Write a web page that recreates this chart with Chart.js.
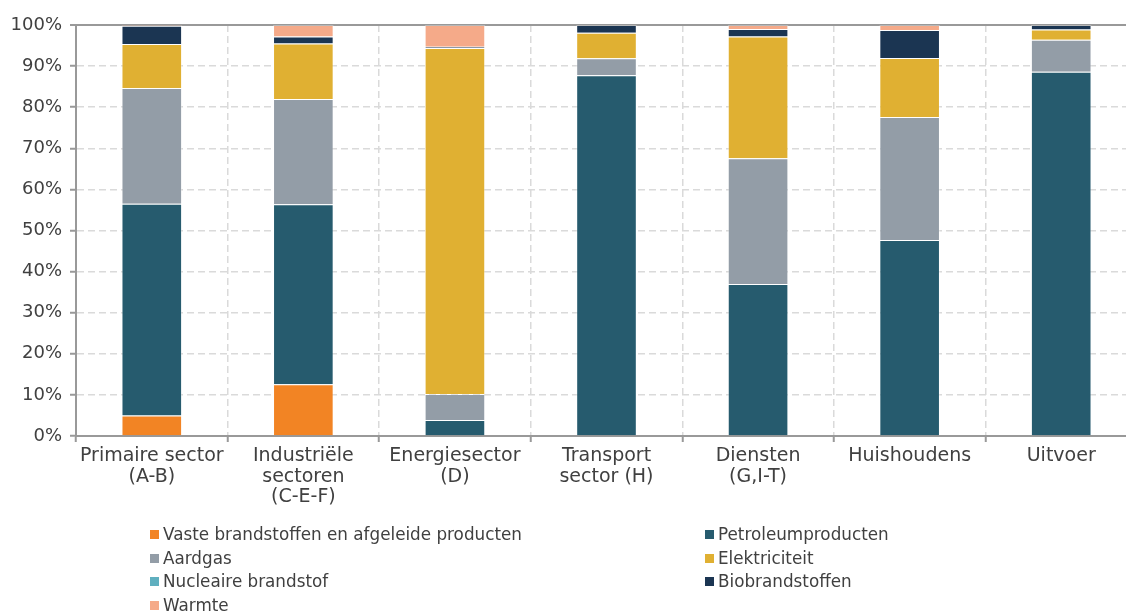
<!DOCTYPE html>
<html>
<head>
<meta charset="utf-8">
<script src="https://cdn.jsdelivr.net/npm/chart.js@4.4.1/dist/chart.umd.min.js"></script>
<style>
  html, body { margin: 0; padding: 0; background: #ffffff; overflow: hidden; }
  #wrap { position: relative; width: 1140px; height: 614px; }
  #chart { position: absolute; left: 0; top: 0; }
  .leg { position: absolute; font-family: "DejaVu Sans", sans-serif; font-size: 16.8px; color: #404040;
         white-space: nowrap; line-height: 20px; height: 20px; }
  .leg i { position: absolute; left: 0; top: 6px; width: 9px; height: 9px; }
  .leg span { position: absolute; left: 13px; top: 0; }
</style>
</head>
<body>
<div id="wrap">
  <canvas id="chart" width="1140" height="614"></canvas>
  <div id="legend"></div>
</div>
<script>
// Sectors (multi-line category labels)
const categories = [
  ["Primaire sector", "(A-B)"],
  ["Industriële", "sectoren", "(C-E-F)"],
  ["Energiesector", "(D)"],
  ["Transport", "sector (H)"],
  ["Diensten", "(G,I-T)"],
  ["Huishoudens"],
  ["Uitvoer"]
];

// Share of each energy carrier per sector (%)
const vaste         = [5.0, 12.6, 0.0, 0.0, 0.0, 0.2, 0.2];
const petroleum     = [51.5, 43.8, 3.9, 87.8, 37.0, 47.5, 88.4];
const aardgas       = [28.2, 25.6, 6.3, 4.1, 30.6, 29.9, 7.8];
const elektriciteit = [10.7, 13.5, 84.2, 6.2, 29.6, 14.4, 2.5];
const nucleaire     = [0, 0, 0, 0, 0, 0, 0];
const biobrandstof  = [4.4, 1.7, 0.3, 1.9, 1.8, 6.8, 1.1];
const warmte        = [0.2, 2.8, 5.3, 0.0, 1.0, 1.2, 0.0];

const seriesNames = [
  "Vaste brandstoffen en afgeleide producten",
  "Petroleumproducten",
  "Aardgas",
  "Elektriciteit",
  "Nucleaire brandstof",
  "Biobrandstoffen",
  "Warmte"
];
const seriesValues = [vaste, petroleum, aardgas, elektriciteit, nucleaire, biobrandstof, warmte];
const seriesColors = ["#F28424", "#265B6E", "#939DA7", "#E0B032", "#5FAFBF", "#1B3552", "#F5AA89"];

const yTicks = [0, 10, 20, 30, 40, 50, 60, 70, 80, 90, 100];

const FONT = "'DejaVu Sans', sans-serif";
const TEXT = "#404040";
const AXIS = "#999999";
const GRID = "#dadada";

const datasets = seriesNames.map((name, i) => ({
  label: name,
  data: seriesValues[i],
  backgroundColor: seriesColors[i],
  borderColor: "rgba(255,255,255,0.3)",
  borderWidth: 1,
  borderSkipped: "bottom",
  barPercentage: 0.5,
  categoryPercentage: 0.8
}));

new Chart(document.getElementById("chart"), {
  type: "bar",
  data: { labels: categories, datasets },
  options: {
    responsive: false,
    animation: false,
    layout: { padding: { top: 25, right: 3, left: 0, bottom: 0 } },
    plugins: { legend: { display: false }, tooltip: { enabled: false } },
    scales: {
      x: {
        stacked: true,
        afterFit: s => { s.height = 178; },
        grid: {
          offset: true,
          color: GRID,
          lineWidth: 1.5,
          drawTicks: true,
          tickLength: 6,
          tickColor: AXIS,
          tickWidth: 2
        },
        border: { display: true, color: AXIS, width: 2, dash: [7, 4] },
        ticks: {
          color: TEXT,
          padding: 4,
          maxRotation: 0,
          autoSkip: false,
          font: { family: FONT, size: 19, lineHeight: 1.08 }
        }
      },
      y: {
        stacked: true,
        min: 0,
        max: 100,
        afterFit: s => { s.width = 76; },
        afterBuildTicks: s => { s.ticks = yTicks.map(v => ({ value: v })); },
        grid: {
          color: c => (c.tick && c.tick.value === 100) ? AXIS : GRID,
          lineWidth: c => (c.tick && c.tick.value === 100) ? 2 : 1.5,
          drawTicks: true,
          tickLength: 6,
          tickColor: AXIS,
          tickWidth: 2
        },
        border: {
          display: true,
          color: AXIS,
          width: 2,
          dash: c => (c.tick && c.tick.value === 100) ? [] : [7, 4]
        },
        ticks: {
          color: TEXT,
          padding: 8,
          font: { family: FONT, size: 18 },
          callback: v => v + "%"
        }
      }
    }
  }
});

// Two-column legend below the plot
const legendEl = document.getElementById("legend");
const colX = [150, 705];
const rowY = [524, 547.5, 571, 594.5];
seriesNames.forEach((name, i) => {
  const d = document.createElement("div");
  d.className = "leg";
  d.style.left = colX[i % 2] + "px";
  d.style.top = rowY[Math.floor(i / 2)] + "px";
  const sw = document.createElement("i");
  sw.style.background = seriesColors[i];
  const t = document.createElement("span");
  t.textContent = name;
  d.appendChild(sw);
  d.appendChild(t);
  legendEl.appendChild(d);
});
</script>
</body>
</html>
